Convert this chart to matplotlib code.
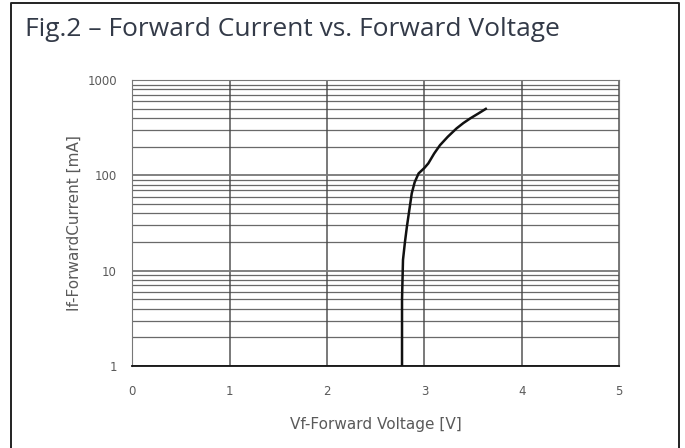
import matplotlib.pyplot as plt
from matplotlib.lines import Line2D
from matplotlib.ticker import LogLocator, NullFormatter, FixedLocator

# Forward current vs forward voltage
voltage_v = [2.77, 2.77, 2.78, 2.80, 2.82, 2.87, 2.90, 2.94, 3.00, 3.04,
             3.10, 3.16, 3.24, 3.33, 3.40, 3.47, 3.55, 3.63]
current_ma = [1, 5, 13, 20, 29, 65, 85, 105, 120, 134,
              170, 208, 255, 312, 355, 397, 445, 500]

x_ticks = [0, 1, 2, 3, 4, 5]
y_ticks = [1, 10, 100, 1000]
y_tick_labels = ['1', '10', '100', '1000']

fig = plt.figure(figsize=(6.85, 4.48), dpi=100)

# outer frame (open at the bottom, as in the datasheet crop)
W, H = 685.0, 448.0
frame_x = [11 / W, 11 / W, 679 / W, 679 / W]
frame_y = [0.0, 1 - 3 / H, 1 - 3 / H, 0.0]
fig.lines.append(Line2D(frame_x, frame_y, transform=fig.transFigure,
                        color='#222222', linewidth=1.4))

fig.text(25 / W, 1 - 29 / H, 'Fig.2 \u2013 Forward Current vs. Forward Voltage',
         fontsize=19, family='Open Sans', color='#333a48', va='center')

ax = fig.add_axes([0.193, 0.183, 0.711, 0.638])
ax.set_yscale('log')
ax.set_xlim(0, 5)
ax.set_ylim(1, 1000)

ax.plot(voltage_v, current_ma, color='#111111', linewidth=1.8)

ax.xaxis.set_major_locator(FixedLocator(x_ticks))
ax.yaxis.set_major_locator(FixedLocator(y_ticks))
ax.set_yticklabels(y_tick_labels)
ax.yaxis.set_minor_locator(LogLocator(base=10, subs=range(2, 10)))
ax.yaxis.set_minor_formatter(NullFormatter())

ax.grid(True, which='major', axis='x', color='#555555', linewidth=1.1)
ax.grid(True, which='major', axis='y', color='#777777', linewidth=1.3)
ax.grid(True, which='minor', axis='y', color='#444444', linewidth=0.9, alpha=0.8)

ax.tick_params(which='both', length=0)
ax.tick_params(axis='both', labelsize=8.5, labelcolor='#5a5a5a')
ax.tick_params(axis='x', pad=14)
ax.tick_params(axis='y', pad=11)

for side in ['top', 'right', 'left']:
    ax.spines[side].set_color('#777777')
ax.spines['bottom'].set_color('#111111')
ax.spines['bottom'].set_linewidth(1.3)

ax.set_xlabel('Vf-Forward Voltage [V]', fontsize=11, color='#5a5a5a', labelpad=13)
ax.set_ylabel('If-ForwardCurrent [mA]', fontsize=11, color='#5a5a5a', labelpad=4)

fig.savefig('out.png', dpi=100)
